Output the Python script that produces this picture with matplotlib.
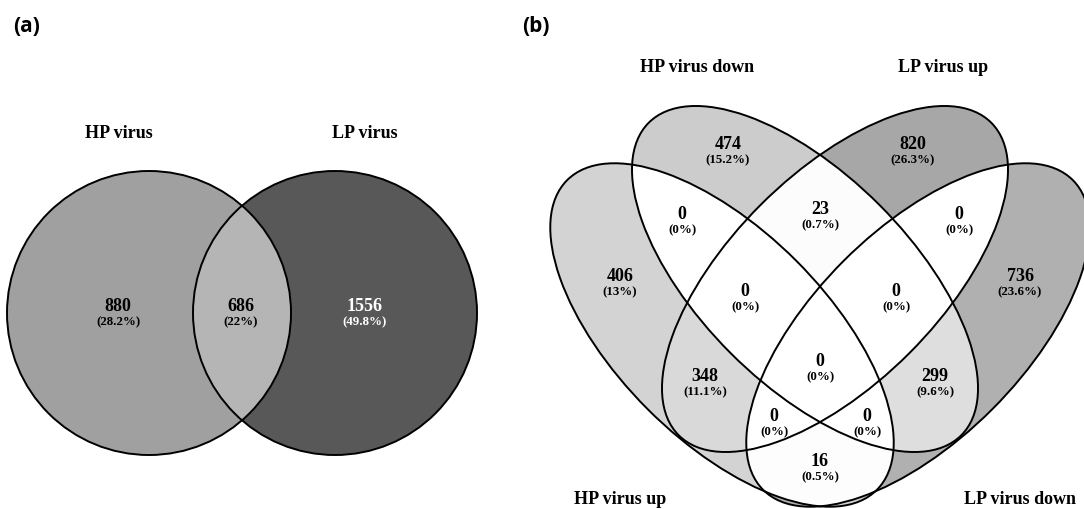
import numpy as np
import matplotlib
matplotlib.use("Agg")
import matplotlib.pyplot as plt
from matplotlib.patches import Ellipse

# ---------------- data ----------------
# (a) two sets
sets_a = ["HP virus", "LP virus"]
keys_a = ["10", "11", "01"]
counts_a = [880, 686, 1556]

# (b) four sets: A = HP up, B = HP down, C = LP up, D = LP down
sets_b = ["HP virus up", "HP virus down", "LP virus up", "LP virus down"]
keys_b = ["1000", "0100", "0010", "0001",
          "1100", "0110", "0011",
          "1110", "0111", "1111",
          "1010", "0101",
          "1011", "1101", "1001"]
counts_b = [406, 474, 820, 736,
            0, 23, 0,
            0, 0, 0,
            348, 299,
            0, 0, 16]

# ---------------- layout (pixel coordinates) ----------------
# ellipse specs: (cx, cy, semi-major, semi-minor, angle)
shapes_a = [(149, 314, 142, 142, 0), (335, 314, 142, 142, 0)]
shapes_b = [(722, 336, 219, 105, 45), (805, 280, 221, 105, 45),
            (835, 280, 221, 105, -45), (918, 336, 219, 105, -45)]
text_a = [(118, 307), (241, 307), (365, 307)]
text_b = [(620, 277), (728, 145), (913, 145), (1020, 277),
          (682, 215), (820, 210), (959, 215),
          (745, 292), (896, 292), (820, 362),
          (705, 377), (935, 377),
          (774, 417), (867, 417), (820, 462)]
setlab_a = [(119, 134), (365, 134)]
setlab_b = [(620, 500), (697, 68), (943, 68), (1020, 500)]

SERIF = ["Liberation Serif", "DejaVu Serif"]
GRAY_MAX = 2380.0   # count that would map to black


def shade(n):
    return float(np.clip(1 - n / GRAY_MAX, 0, 1))


def inside(X, Y, s):
    cx, cy, a, b, ang = s
    t = np.deg2rad(ang)
    dx, dy = X - cx, Y - cy
    u = dx * np.cos(t) + dy * np.sin(t)
    v = -dx * np.sin(t) + dy * np.cos(t)
    return (u / a) ** 2 + (v / b) ** 2 <= 1


def pct(n, total):
    return f"({round(100 * n / total, 1):g}%)"


def draw_venn(ax, shapes, keys, counts, tpos, names, npos):
    # region fills from counts, rasterised at 3x
    x0 = min(s[0] - s[2] for s in shapes) - 5
    x1 = max(s[0] + s[2] for s in shapes) + 5
    y0 = min(s[1] - s[2] for s in shapes) - 5
    y1 = max(s[1] + s[2] for s in shapes) + 5
    step = 1 / 3
    xs = np.arange(x0, x1, step) + step / 2
    ys = np.arange(y0, y1, step) + step / 2
    X, Y = np.meshgrid(xs, ys)
    member = np.zeros(X.shape, dtype=int)
    for i, s in enumerate(shapes):
        member += inside(X, Y, s).astype(int) << (len(shapes) - 1 - i)
    img = np.zeros(X.shape + (4,))
    for k, n in zip(keys, counts):
        g = shade(n)
        img[member == int(k, 2)] = (g, g, g, 1)
    ax.imshow(img, extent=(x0, x0 + len(xs) * step, y0 + len(ys) * step, y0),
              origin="upper", interpolation="antialiased", zorder=1)

    for cx, cy, a, b, ang in shapes:
        ax.add_patch(Ellipse((cx, cy), 2 * a, 2 * b, angle=ang, fill=False,
                             ec="black", lw=1.4, zorder=3))

    total = sum(counts)
    for (x, y), n in zip(tpos, counts):
        col = "white" if shade(n) < 0.45 else "black"
        ax.text(x, y, str(n), ha="center", va="center", fontsize=13,
                fontweight="bold", family=SERIF, color=col, zorder=4)
        ax.text(x, y + 15, pct(n, total), ha="center", va="center",
                fontsize=9.3, fontweight="bold", family=SERIF, color=col,
                zorder=4)
    for (x, y), name in zip(npos, names):
        ax.text(x, y, name, ha="center", va="center", fontsize=13,
                fontweight="bold", family=SERIF, zorder=4)


fig = plt.figure(figsize=(10.84, 5.10), dpi=100)
ax = fig.add_axes([0, 0, 1, 1])

draw_venn(ax, shapes_a, keys_a, counts_a, text_a, sets_a, setlab_a)
draw_venn(ax, shapes_b, keys_b, counts_b, text_b, sets_b, setlab_b)

for x, lab in [(27, "(a)"), (536, "(b)")]:
    ax.text(x, 27, lab, ha="center", va="center", fontsize=15,
            fontweight="bold", family=["Open Sans", "DejaVu Sans"])

ax.set_xlim(0, 1084)
ax.set_ylim(510, 0)
ax.axis("off")
fig.savefig("out.png", dpi=100, facecolor="white")
